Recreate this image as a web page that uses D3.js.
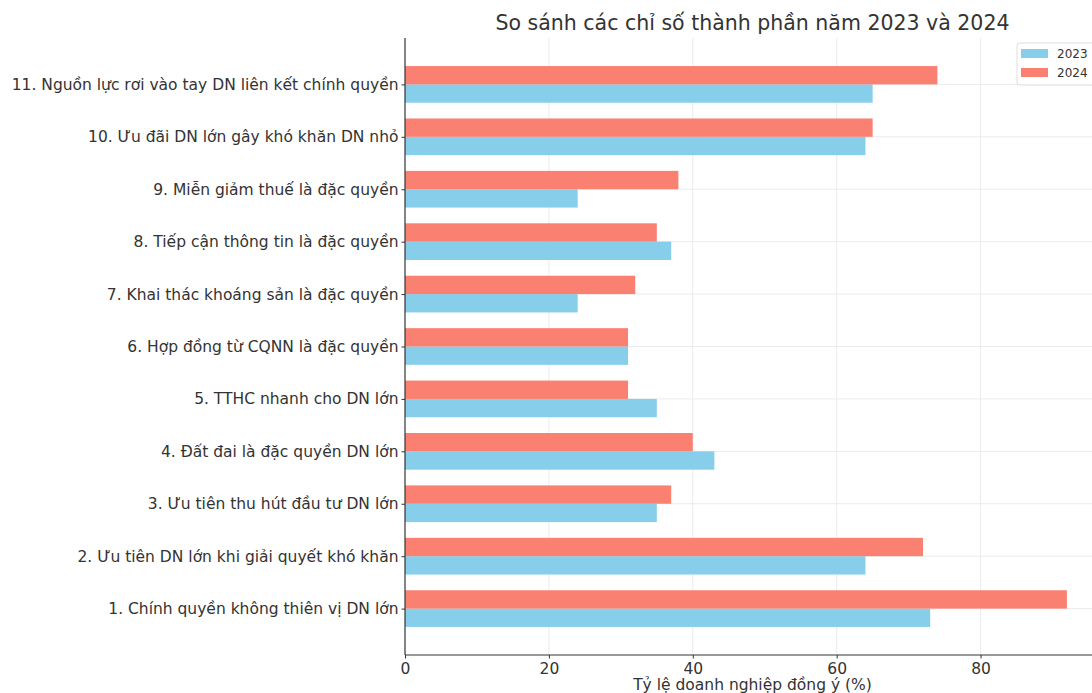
<!DOCTYPE html>
<html>
<head>
<meta charset="utf-8">
<script src="https://cdn.jsdelivr.net/npm/d3@7"></script>
<style>
  body { margin: 0; background: #fff; }
  svg { display: block; font-family: "DejaVu Sans", sans-serif; }
</style>
</head>
<body>
<div id="chart"></div>
<script>
// categories, bottom to top (as matplotlib barh draws them)
var categories = [
  "1. Chính quyền không thiên vị DN lớn",
  "2. Ưu tiên DN lớn khi giải quyết khó khăn",
  "3. Ưu tiên thu hút đầu tư DN lớn",
  "4. Đất đai là đặc quyền DN lớn",
  "5. TTHC nhanh cho DN lớn",
  "6. Hợp đồng từ CQNN là đặc quyền",
  "7. Khai thác khoáng sản là đặc quyền",
  "8. Tiếp cận thông tin là đặc quyền",
  "9. Miễn giảm thuế là đặc quyền",
  "10. Ưu đãi DN lớn gây khó khăn DN nhỏ",
  "11. Nguồn lực rơi vào tay DN liên kết chính quyền"
];
var values2023 = [73, 64, 35, 43, 35, 31, 24, 37, 24, 64, 65];
var values2024 = [92, 72, 37, 40, 31, 31, 32, 35, 38, 65, 74];
var seriesNames = ["2023", "2024"];
var xTicks = [0, 20, 40, 60, 80];

var W = 1092, H = 693;
var margin = {left: 405, top: 38, right: -8, bottom: 38};
var plotW = W - margin.left - margin.right;
var plotH = H - margin.top - margin.bottom;

var svg = d3.select("#chart").append("svg").attr("width", W).attr("height", H);

var x = d3.scaleLinear().domain([0, 96.6]).range([0, plotW]);
// numeric y like matplotlib: index i at position i, bar height 0.35
var y = d3.scaleLinear().domain([-0.885, categories.length - 1 + 0.885]).range([plotH, 0]);
var bh = 0.35;

var g = svg.append("g").attr("transform", "translate(" + margin.left + "," + margin.top + ")");

// grid
g.selectAll(".vgrid").data(xTicks.slice(1)).enter().append("line")
  .attr("x1", function(d) { return x(d); }).attr("x2", function(d) { return x(d); })
  .attr("y1", 0).attr("y2", plotH)
  .attr("stroke", "#ebebeb").attr("stroke-width", 1);
g.selectAll(".hgrid").data(categories).enter().append("line")
  .attr("x1", 0).attr("x2", plotW)
  .attr("y1", function(d, i) { return y(i); }).attr("y2", function(d, i) { return y(i); })
  .attr("stroke", "#ebebeb").attr("stroke-width", 1);

// bars
g.selectAll(".b2023").data(values2023).enter().append("rect")
  .attr("x", x(0))
  .attr("y", function(d, i) { return y(i); })
  .attr("width", function(d) { return x(d) - x(0); })
  .attr("height", function(d, i) { return y(i - bh) - y(i); })
  .attr("fill", "#87CEEB");
g.selectAll(".b2024").data(values2024).enter().append("rect")
  .attr("x", x(0))
  .attr("y", function(d, i) { return y(i + bh); })
  .attr("width", function(d) { return x(d) - x(0); })
  .attr("height", function(d, i) { return y(i) - y(i + bh); })
  .attr("fill", "#FA8072");

// axes
var xAxis = g.append("g").attr("transform", "translate(0," + plotH + ")")
  .call(d3.axisBottom(x).tickValues(xTicks).tickSize(3.5).tickPadding(4).tickFormat(d3.format("d")));
var yAxis = g.append("g")
  .call(d3.axisLeft(y).tickValues(d3.range(categories.length)).tickSize(3.5).tickPadding(3)
    .tickFormat(function(i) { return categories[i]; }));
[xAxis, yAxis].forEach(function(a) {
  a.select(".domain").attr("stroke", "#333").attr("stroke-width", 1.2);
  a.selectAll(".tick line").attr("stroke", "#333");
  a.selectAll(".tick text").attr("fill", "#333").style("font-size", "15.5px").style("font-family", "DejaVu Sans");
});
yAxis.select(".domain").attr("d", "M0," + plotH + "V0");
xAxis.select(".domain").attr("d", "M0,0H" + plotW);

// title and axis label
svg.append("text")
  .attr("x", margin.left + plotW / 2).attr("y", 30)
  .attr("text-anchor", "middle").attr("fill", "#333")
  .style("font-size", "20.5px")
  .text("So sánh các chỉ số thành phần năm 2023 và 2024");
svg.append("text")
  .attr("x", margin.left + plotW / 2).attr("y", 690)
  .attr("text-anchor", "middle").attr("fill", "#333")
  .style("font-size", "15.5px")
  .text("Tỷ lệ doanh nghiệp đồng ý (%)");

// legend
var leg = svg.append("g").attr("transform", "translate(1017,43)");
leg.append("rect").attr("width", 90).attr("height", 42).attr("rx", 3)
  .attr("fill", "#fff").attr("fill-opacity", 0.8).attr("stroke", "#ddd");
var colors = ["#87CEEB", "#FA8072"];
seriesNames.forEach(function(s, i) {
  leg.append("rect").attr("x", 4).attr("y", 6 + i * 19).attr("width", 27).attr("height", 9).attr("fill", colors[i]);
  leg.append("text").attr("x", 40).attr("y", 15 + i * 19).attr("fill", "#333")
    .style("font-size", "12px").text(s);
});
</script>
</body>
</html>
